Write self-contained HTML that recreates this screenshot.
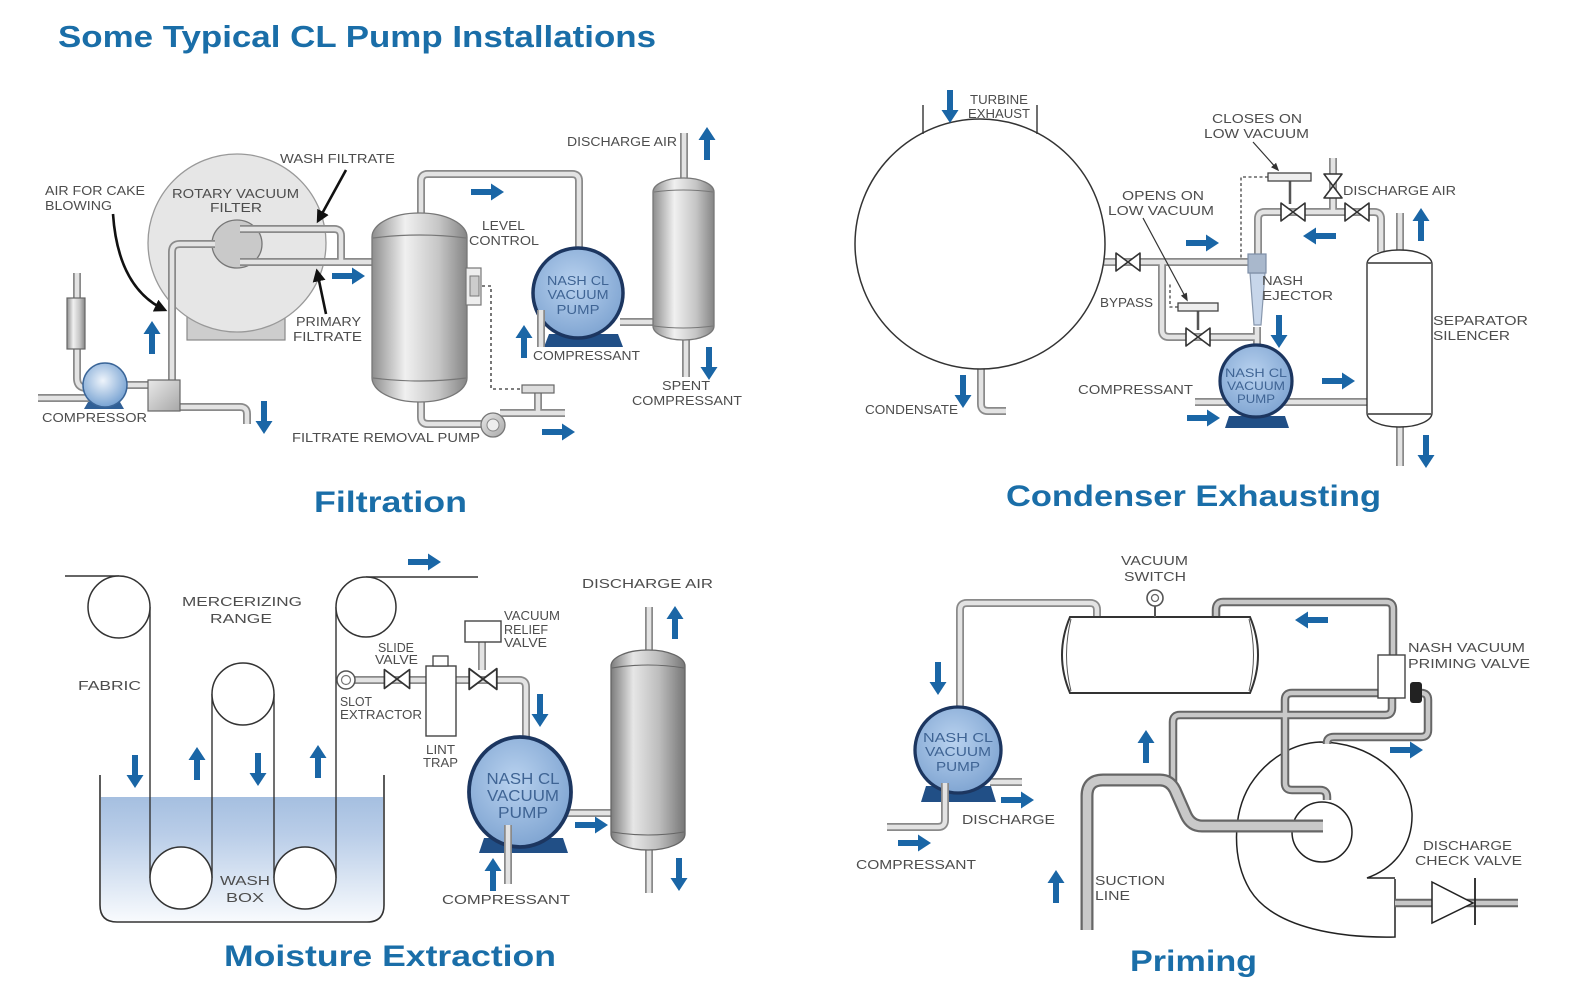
<!DOCTYPE html>
<html><head><meta charset="utf-8"><style>
html,body{margin:0;padding:0;background:#fff}
svg{display:block}
.t{font-family:"Liberation Sans",Arial,sans-serif;fill:#4d4d4d;font-size:13px}
.h{font-family:"Liberation Sans",Arial,sans-serif;fill:#1a6ea8;font-weight:bold}
.pt{font-family:"Liberation Sans",Arial,sans-serif;fill:#3f6494;text-anchor:middle}
.po{fill:none;stroke:#8a8a8a;stroke-width:8;stroke-linejoin:round;stroke-linecap:butt}
.pi{fill:none;stroke:#e3e3e3;stroke-width:4.5;stroke-linejoin:round;stroke-linecap:butt}
.qo{fill:none;stroke:#666;stroke-width:8.5;stroke-linejoin:round}
.qi{fill:none;stroke:#c8c8c8;stroke-width:4.5;stroke-linejoin:round}
.so{fill:none;stroke:#666;stroke-width:13;stroke-linejoin:round}
.si{fill:none;stroke:#c9c9c9;stroke-width:8.5;stroke-linejoin:round}
.ln{fill:none;stroke:#333;stroke-width:1.4}
.ar{fill:#1a66a6}
</style></head><body>
<svg width="1572" height="1000" viewBox="0 0 1572 1000" xmlns="http://www.w3.org/2000/svg">
<defs>
 <linearGradient id="gv" x1="0" y1="0" x2="1" y2="0">
  <stop offset="0" stop-color="#8e8e8e"/><stop offset="0.35" stop-color="#f0f0f0"/><stop offset="0.7" stop-color="#c6c6c6"/><stop offset="1" stop-color="#858585"/>
 </linearGradient>
 <linearGradient id="gd" x1="0" y1="0" x2="1" y2="0">
  <stop offset="0" stop-color="#7c7c7c"/><stop offset="0.3" stop-color="#e6e6e6"/><stop offset="0.65" stop-color="#bdbdbd"/><stop offset="1" stop-color="#777"/>
 </linearGradient>
 <radialGradient id="gb" cx="0.45" cy="0.4" r="0.65">
  <stop offset="0" stop-color="#b9d2ef"/><stop offset="1" stop-color="#7ca2d0"/>
 </radialGradient>
 <radialGradient id="gc" cx="0.45" cy="0.4" r="0.65">
  <stop offset="0" stop-color="#eef4fb"/><stop offset="1" stop-color="#6e9ccf"/>
 </radialGradient>
 <linearGradient id="gw" x1="0" y1="0" x2="0" y2="1">
  <stop offset="0" stop-color="#a5bfe0"/><stop offset="0.3" stop-color="#b9cde8"/><stop offset="0.7" stop-color="#dde7f4"/><stop offset="1" stop-color="#f8fafd"/>
 </linearGradient>
 <linearGradient id="gbox" x1="0" y1="0" x2="1" y2="1">
  <stop offset="0" stop-color="#e8e8e8"/><stop offset="1" stop-color="#a8a8a8"/>
 </linearGradient>
 <marker id="mk" viewBox="0 0 10 10" refX="8" refY="5" markerWidth="5" markerHeight="5" orient="auto"><path d="M0,0L10,5L0,10z" fill="#111"/></marker>
 <marker id="mt" viewBox="0 0 10 10" refX="8" refY="5" markerWidth="7" markerHeight="7" orient="auto"><path d="M0,1L10,5L0,9z" fill="#333"/></marker>
 <path id="arr" d="M0,-3H20V-8.5L33,0L20,8.5V3H0Z"/>
 <path id="vv" d="M-12,-9L12,9V-9L-12,9Z" fill="#fff" stroke="#333" stroke-width="1.6" stroke-linejoin="round"/>
 <!-- filtration pipes -->
 <g id="fp">
  <path d="M38,398H90"/>
  <path d="M77,273V378Q77,388 87,388"/>
  <path d="M125,385H150"/>
  <path d="M180,407H240Q247,407 247,414V424"/>
  <path d="M172,380V252Q172,244 180,244H215"/>
  <path d="M240,229H334Q341,229 341,236V262"/>
  <path d="M240,262H375"/>
  <path d="M421,215V181Q421,174 428,174H572Q579,174 579,181V250"/>
  <path d="M421,400V417Q421,424 428,424H482"/>
  <path d="M500,413H565"/>
  <path d="M538,393V413"/>
  <path d="M620,322H686"/>
  <path d="M684,133V180"/>
  <path d="M686,338V377"/>
 </g>
 <g id="fp2"><path d="M541,347V310"/></g>
 <!-- condenser pipes -->
 <g id="cp">
  <path d="M1104,262H1250"/>
  <path d="M1162,262V330Q1162,337 1169,337H1258"/>
  <path d="M1258,256V219Q1258,212 1265,212H1374Q1381,212 1381,219V252"/>
  <path d="M1333,212V158"/>
  <path d="M981,369V404Q981,411 988,411H1006"/>
  <path d="M1195,402H1400"/>
  <path d="M1400,213V252"/>
  <path d="M1400,425V466"/>
  <path d="M1257,327V346"/>
 </g>
 <!-- moisture pipes -->
 <g id="mp">
  <path d="M354,680H519Q526,680 526,687V740"/>
  <path d="M482,641V670"/>
  <path d="M566,813H646"/>
  <path d="M649,607V652"/>
  <path d="M649,848V893"/>
 </g>
 <g id="mp2"><path d="M508,825V884"/></g>
 <!-- priming light pipes -->
 <g id="pp">
  <path d="M1097,618V610Q1097,603 1090,603H967Q960,603 960,610V708"/>
  <path d="M990,782H1022"/>
 </g>
 <g id="pp2"><path d="M945,783V820Q945,827 938,827H887"/></g>
 <g id="pd">
  <path d="M1216,618V610Q1216,602 1223,602H1386Q1393,602 1393,609V656"/>
  <path d="M1380,693H1292Q1285,693 1285,700V783Q1285,790 1292,790H1320Q1327,790 1327,797V800"/>
  <path d="M1392,698V708Q1392,715 1385,715H1180Q1173,715 1173,722V782"/>
  <path d="M1421,693H1421Q1428,693 1428,700V730Q1428,737 1421,737H1334Q1327,737 1327,743V744"/>
  <path d="M1395,903H1518"/>
 </g>
 <g id="ps"><path d="M1087,930V796Q1087,780 1103,780H1160Q1170,780 1175,790L1186,815Q1191,826 1202,826H1323"/></g>
</defs>

<!-- TITLE -->
<text class="h" x="58" y="47" font-size="31" textLength="598" lengthAdjust="spacingAndGlyphs">Some Typical CL Pump Installations</text>

<!-- ================= FILTRATION ================= -->
<rect x="187" y="312" width="98" height="28" fill="#cdcdcd" stroke="#888" stroke-width="1.2"/>
<circle cx="237" cy="243" r="89" fill="#e6e6e6" stroke="#999" stroke-width="1.3"/>
<ellipse cx="237" cy="244" rx="25" ry="24" fill="#c9c9c9" stroke="#777" stroke-width="1.3"/>
<use href="#fp" class="po"/><use href="#fp" class="pi"/>
<!-- gauge -->
<rect x="67" y="298" width="18" height="51" fill="url(#gv)" stroke="#666" stroke-width="1.2"/>
<!-- compressor -->
<path d="M88,402H120L124,409H84Z" fill="#2f5f96"/>
<ellipse cx="105" cy="385" rx="22" ry="22" fill="url(#gc)" stroke="#3a6598" stroke-width="1.5"/>
<!-- box -->
<rect x="148" y="380" width="32" height="31" fill="url(#gbox)" stroke="#666" stroke-width="1.2"/>
<!-- tank -->
<rect x="372" y="213" width="95" height="189" rx="47" ry="24" fill="url(#gv)" stroke="#777" stroke-width="1.3"/>
<path d="M373,238Q420,232 466,238M373,378Q420,384 466,378" fill="none" stroke="#777" stroke-width="1.2"/>
<!-- level control -->
<rect x="466" y="268" width="15" height="37" fill="#eee" stroke="#777" stroke-width="1.2"/>
<rect x="470" y="276" width="9" height="20" fill="#ccc" stroke="#777" stroke-width="1"/>
<path d="M482,286H491V389H523" fill="none" stroke="#555" stroke-width="1.6" stroke-dasharray="3,3"/>
<rect x="522" y="385" width="32" height="8" fill="#ddd" stroke="#666" stroke-width="1.2"/>
<!-- filtrate pump -->
<circle cx="493" cy="425" r="12" fill="url(#gbox)" stroke="#777" stroke-width="1.3"/>
<circle cx="493" cy="425" r="6" fill="#eee" stroke="#888" stroke-width="1"/>
<!-- nash pump -->
<path d="M549,334H618L623,347H544Z" fill="#214f86"/>
<circle cx="578" cy="293" r="45" fill="url(#gb)" stroke="#1c3660" stroke-width="3.5"/>
<use href="#fp2" class="po"/><use href="#fp2" class="pi"/>
<text class="pt" x="578" y="285" font-size="13" textLength="62" lengthAdjust="spacingAndGlyphs">NASH CL</text>
<text class="pt" x="578" y="299" font-size="13" textLength="61" lengthAdjust="spacingAndGlyphs">VACUUM</text>
<text class="pt" x="578" y="314" font-size="13" textLength="43" lengthAdjust="spacingAndGlyphs">PUMP</text>
<!-- separator -->
<rect x="653" y="178" width="61" height="162" rx="30" ry="14" fill="url(#gv)" stroke="#777" stroke-width="1.3"/>
<path d="M654,192Q683,188 713,192M654,326Q683,330 713,326" fill="none" stroke="#777" stroke-width="1.1"/>
<!-- black arrows -->
<path d="M113,214Q118,288 165,310" fill="none" stroke="#111" stroke-width="2.6" marker-end="url(#mk)"/>
<path d="M346,170L318,221" fill="none" stroke="#111" stroke-width="2.6" marker-end="url(#mk)"/>
<path d="M326,314L317,271" fill="none" stroke="#111" stroke-width="2.6" marker-end="url(#mk)"/>
<!-- blue arrows -->
<use href="#arr" class="ar" transform="translate(152,354) rotate(-90)"/>
<use href="#arr" class="ar" transform="translate(264,401) rotate(90)"/>
<use href="#arr" class="ar" transform="translate(332,276)"/>
<use href="#arr" class="ar" transform="translate(471,192)"/>
<use href="#arr" class="ar" transform="translate(524,358) rotate(-90)"/>
<use href="#arr" class="ar" transform="translate(707,160) rotate(-90)"/>
<use href="#arr" class="ar" transform="translate(709,347) rotate(90)"/>
<use href="#arr" class="ar" transform="translate(542,432)"/>
<!-- labels -->
<text class="t" x="280" y="163" textLength="115" lengthAdjust="spacingAndGlyphs">WASH FILTRATE</text>
<text class="t" x="45" y="195" textLength="100" lengthAdjust="spacingAndGlyphs">AIR FOR CAKE</text>
<text class="t" x="45" y="210" textLength="67" lengthAdjust="spacingAndGlyphs">BLOWING</text>
<text class="t" x="172" y="198" textLength="127" lengthAdjust="spacingAndGlyphs">ROTARY VACUUM</text>
<text class="t" x="210" y="212" textLength="52" lengthAdjust="spacingAndGlyphs">FILTER</text>
<text class="t" x="482" y="230" textLength="43" lengthAdjust="spacingAndGlyphs">LEVEL</text>
<text class="t" x="469" y="245" textLength="70" lengthAdjust="spacingAndGlyphs">CONTROL</text>
<text class="t" x="567" y="146" textLength="110" lengthAdjust="spacingAndGlyphs">DISCHARGE AIR</text>
<text class="t" x="296" y="326" textLength="65" lengthAdjust="spacingAndGlyphs">PRIMARY</text>
<text class="t" x="293" y="341" textLength="69" lengthAdjust="spacingAndGlyphs">FILTRATE</text>
<text class="t" x="533" y="360" textLength="107" lengthAdjust="spacingAndGlyphs">COMPRESSANT</text>
<text class="t" x="662" y="390" textLength="48" lengthAdjust="spacingAndGlyphs">SPENT</text>
<text class="t" x="632" y="405" textLength="110" lengthAdjust="spacingAndGlyphs">COMPRESSANT</text>
<text class="t" x="42" y="422" textLength="105" lengthAdjust="spacingAndGlyphs">COMPRESSOR</text>
<text class="t" x="292" y="442" textLength="188" lengthAdjust="spacingAndGlyphs">FILTRATE REMOVAL PUMP</text>
<text class="h" x="314" y="512" font-size="30" textLength="153" lengthAdjust="spacingAndGlyphs">Filtration</text>

<!-- ================= CONDENSER ================= -->
<use href="#cp" class="po"/><use href="#cp" class="pi"/>
<circle cx="980" cy="244" r="125" fill="#fff" stroke="#333" stroke-width="1.5"/>
<path d="M923,105V134M1037,105V134" class="ln"/>
<use href="#vv" transform="translate(1128,262)"/>
<use href="#vv" transform="translate(1198,337)"/>
<use href="#vv" transform="translate(1293,212)"/>
<use href="#vv" transform="translate(1357,212)"/>
<use href="#vv" transform="translate(1333,186) rotate(90)"/>
<!-- actuators -->
<path d="M1198,311V330M1290,181V204" stroke="#555" stroke-width="2.5"/>
<rect x="1178" y="303" width="40" height="8" fill="#eee" stroke="#444" stroke-width="1.3"/>
<rect x="1268" y="173" width="43" height="8" fill="#eee" stroke="#444" stroke-width="1.3"/>
<path d="M1268,177H1241V259" fill="none" stroke="#444" stroke-width="1.3" stroke-dasharray="3,2.5"/>
<path d="M1178,307H1170V284" fill="none" stroke="#444" stroke-width="1.3" stroke-dasharray="3,2.5"/>
<!-- ejector -->
<path d="M1250,273H1265L1261,325H1254Z" fill="#c7d6ea" stroke="#8797ad" stroke-width="1.2"/>
<rect x="1248" y="254" width="18" height="19" fill="#a9b8cc" stroke="#7d8ea6" stroke-width="1.2"/>
<!-- pump -->
<path d="M1229,416H1285L1289,428H1225Z" fill="#214f86"/>
<circle cx="1256" cy="381" r="36" fill="url(#gb)" stroke="#1c3660" stroke-width="3.2"/>
<text class="pt" x="1256" y="377" font-size="12" textLength="62" lengthAdjust="spacingAndGlyphs">NASH CL</text>
<text class="pt" x="1256" y="390" font-size="12" textLength="58" lengthAdjust="spacingAndGlyphs">VACUUM</text>
<text class="pt" x="1256" y="403" font-size="12" textLength="38" lengthAdjust="spacingAndGlyphs">PUMP</text>
<!-- separator silencer -->
<rect x="1367" y="250" width="65" height="177" rx="32" ry="14" fill="#fff" stroke="#333" stroke-width="1.4"/>
<path d="M1368,263H1431M1368,414H1431" class="ln"/>
<!-- thin arrows -->
<path d="M1143,218L1187,300" fill="none" stroke="#333" stroke-width="1.2" marker-end="url(#mt)"/>
<path d="M1253,142L1278,170" fill="none" stroke="#333" stroke-width="1.2" marker-end="url(#mt)"/>
<!-- blue arrows -->
<use href="#arr" class="ar" transform="translate(950,90) rotate(90)"/>
<use href="#arr" class="ar" transform="translate(963,375) rotate(90)"/>
<use href="#arr" class="ar" transform="translate(1186,243)"/>
<use href="#arr" class="ar" transform="translate(1336,236) rotate(180)"/>
<use href="#arr" class="ar" transform="translate(1279,315) rotate(90)"/>
<use href="#arr" class="ar" transform="translate(1421,241) rotate(-90)"/>
<use href="#arr" class="ar" transform="translate(1426,435) rotate(90)"/>
<use href="#arr" class="ar" transform="translate(1322,381)"/>
<use href="#arr" class="ar" transform="translate(1187,418)"/>
<!-- labels -->
<text class="t" x="970" y="104" font-size="12" textLength="58" lengthAdjust="spacingAndGlyphs">TURBINE</text>
<text class="t" x="968" y="118" font-size="12" textLength="62" lengthAdjust="spacingAndGlyphs">EXHAUST</text>
<text class="t" x="1212" y="123" textLength="90" lengthAdjust="spacingAndGlyphs">CLOSES ON</text>
<text class="t" x="1204" y="138" textLength="105" lengthAdjust="spacingAndGlyphs">LOW VACUUM</text>
<text class="t" x="1122" y="200" textLength="82" lengthAdjust="spacingAndGlyphs">OPENS ON</text>
<text class="t" x="1108" y="215" textLength="106" lengthAdjust="spacingAndGlyphs">LOW VACUUM</text>
<text class="t" x="1343" y="195" textLength="113" lengthAdjust="spacingAndGlyphs">DISCHARGE AIR</text>
<text class="t" x="1262" y="285" textLength="41" lengthAdjust="spacingAndGlyphs">NASH</text>
<text class="t" x="1262" y="300" textLength="71" lengthAdjust="spacingAndGlyphs">EJECTOR</text>
<text class="t" x="1100" y="307" font-size="12" textLength="53" lengthAdjust="spacingAndGlyphs">BYPASS</text>
<text class="t" x="1433" y="325" textLength="95" lengthAdjust="spacingAndGlyphs">SEPARATOR</text>
<text class="t" x="1433" y="340" textLength="77" lengthAdjust="spacingAndGlyphs">SILENCER</text>
<text class="t" x="1078" y="394" textLength="115" lengthAdjust="spacingAndGlyphs">COMPRESSANT</text>
<text class="t" x="865" y="414" font-size="12" textLength="93" lengthAdjust="spacingAndGlyphs">CONDENSATE</text>
<text class="h" x="1006" y="506" font-size="30" textLength="375" lengthAdjust="spacingAndGlyphs">Condenser Exhausting</text>

<!-- ================= MOISTURE ================= -->
<path d="M101,797H383V905Q383,921 367,921H117Q101,921 101,905Z" fill="url(#gw)"/>
<path d="M65,576H119M366,577H478M150,607V878M212,694V878M274,694V878M336,607V878" class="ln"/>
<circle cx="119" cy="607" r="31" fill="#fff" stroke="#333" stroke-width="1.5"/>
<circle cx="366" cy="607" r="30" fill="#fff" stroke="#333" stroke-width="1.5"/>
<circle cx="243" cy="694" r="31" fill="#fff" stroke="#333" stroke-width="1.5"/>
<circle cx="181" cy="878" r="31" fill="#fff" stroke="#333" stroke-width="1.5"/>
<circle cx="305" cy="878" r="31" fill="#fff" stroke="#333" stroke-width="1.5"/>
<path d="M100,775V905Q100,922 117,922H367Q384,922 384,905V775" fill="none" stroke="#333" stroke-width="1.6"/>
<use href="#mp" class="po"/><use href="#mp" class="pi"/>
<circle cx="346" cy="680" r="9" fill="#fff" stroke="#555" stroke-width="1.5"/>
<circle cx="346" cy="680" r="4.5" fill="#fff" stroke="#777" stroke-width="1.2"/>
<use href="#vv" transform="translate(397,679) scale(1.05)"/>
<use href="#vv" transform="translate(483,679) scale(1.15)"/>
<rect x="426" y="666" width="30" height="70" fill="#fff" stroke="#444" stroke-width="1.4"/>
<rect x="433" y="656" width="15" height="10" fill="#fff" stroke="#444" stroke-width="1.3"/>
<rect x="465" y="621" width="36" height="21" fill="#fff" stroke="#444" stroke-width="1.4"/>
<!-- pump -->
<path d="M484,838H563L568,853H479Z" fill="#214f86"/>
<ellipse cx="520" cy="792" rx="51" ry="55" fill="url(#gb)" stroke="#1c3660" stroke-width="3.8"/>
<use href="#mp2" class="po"/><use href="#mp2" class="pi"/>
<text class="pt" x="523" y="784" font-size="16" textLength="73" lengthAdjust="spacingAndGlyphs">NASH CL</text>
<text class="pt" x="523" y="801" font-size="16" textLength="72" lengthAdjust="spacingAndGlyphs">VACUUM</text>
<text class="pt" x="523" y="818" font-size="16" textLength="50" lengthAdjust="spacingAndGlyphs">PUMP</text>
<!-- separator -->
<rect x="611" y="650" width="74" height="200" rx="37" ry="16" fill="url(#gd)" stroke="#666" stroke-width="1.3"/>
<path d="M612,668Q648,662 684,668M612,832Q648,838 684,832" fill="none" stroke="#666" stroke-width="1.1"/>
<!-- arrows -->
<use href="#arr" class="ar" transform="translate(135,755) rotate(90)"/>
<use href="#arr" class="ar" transform="translate(197,780) rotate(-90)"/>
<use href="#arr" class="ar" transform="translate(258,753) rotate(90)"/>
<use href="#arr" class="ar" transform="translate(318,778) rotate(-90)"/>
<use href="#arr" class="ar" transform="translate(408,562)"/>
<use href="#arr" class="ar" transform="translate(540,694) rotate(90)"/>
<use href="#arr" class="ar" transform="translate(493,891) rotate(-90)"/>
<use href="#arr" class="ar" transform="translate(575,825)"/>
<use href="#arr" class="ar" transform="translate(675,639) rotate(-90)"/>
<use href="#arr" class="ar" transform="translate(679,858) rotate(90)"/>
<!-- labels -->
<text class="t" x="182" y="606" font-size="15" textLength="120" lengthAdjust="spacingAndGlyphs">MERCERIZING</text>
<text class="t" x="210" y="623" font-size="15" textLength="62" lengthAdjust="spacingAndGlyphs">RANGE</text>
<text class="t" x="78" y="690" font-size="15" textLength="63" lengthAdjust="spacingAndGlyphs">FABRIC</text>
<text class="t" x="378" y="652" font-size="11" textLength="36" lengthAdjust="spacingAndGlyphs">SLIDE</text>
<text class="t" x="375" y="664" font-size="11" textLength="43" lengthAdjust="spacingAndGlyphs">VALVE</text>
<text class="t" x="340" y="706" font-size="12" textLength="32" lengthAdjust="spacingAndGlyphs">SLOT</text>
<text class="t" x="340" y="719" font-size="12" textLength="82" lengthAdjust="spacingAndGlyphs">EXTRACTOR</text>
<text class="t" x="504" y="620" font-size="12" textLength="56" lengthAdjust="spacingAndGlyphs">VACUUM</text>
<text class="t" x="504" y="634" font-size="12" textLength="44" lengthAdjust="spacingAndGlyphs">RELIEF</text>
<text class="t" x="504" y="647" font-size="12" textLength="43" lengthAdjust="spacingAndGlyphs">VALVE</text>
<text class="t" x="426" y="754" font-size="12" textLength="29" lengthAdjust="spacingAndGlyphs">LINT</text>
<text class="t" x="423" y="767" font-size="12" textLength="35" lengthAdjust="spacingAndGlyphs">TRAP</text>
<text class="t" x="582" y="588" font-size="15" textLength="131" lengthAdjust="spacingAndGlyphs">DISCHARGE AIR</text>
<text class="t" x="220" y="885" font-size="15" textLength="50" lengthAdjust="spacingAndGlyphs">WASH</text>
<text class="t" x="226" y="902" font-size="15" textLength="38" lengthAdjust="spacingAndGlyphs">BOX</text>
<text class="t" x="442" y="904" font-size="15" textLength="128" lengthAdjust="spacingAndGlyphs">COMPRESSANT</text>
<text class="h" x="224" y="966" font-size="30" textLength="332" lengthAdjust="spacingAndGlyphs">Moisture Extraction</text>

<!-- ================= PRIMING ================= -->
<!-- volute -->
<path d="M1395,879V937C1345,938 1275,930 1250,890C1232,860 1232,815 1250,785C1268,757 1295,743 1320,742C1370,742 1410,775 1412,813C1413,845 1395,868 1367,878H1395" fill="#fff" stroke="#222" stroke-width="1.5"/>
<circle cx="1322" cy="832" r="30" fill="#fff" stroke="#222" stroke-width="1.5"/>
<use href="#pp" class="po"/><use href="#pp" class="pi"/>
<use href="#pd" class="qo"/><use href="#pd" class="qi"/>
<use href="#ps" class="so"/><use href="#ps" class="si"/>
<!-- tank -->
<path d="M1070,617H1250Q1266,655 1250,693H1070Q1054,655 1070,617Z" fill="#fff" stroke="#333" stroke-width="2"/>
<path d="M1071,619Q1062,655 1071,691M1249,619Q1258,655 1249,691" fill="none" stroke="#555" stroke-width="1"/>
<path d="M1155,605V617" stroke="#555" stroke-width="2"/>
<circle cx="1155" cy="598" r="8" fill="#fff" stroke="#555" stroke-width="1.6"/>
<circle cx="1155" cy="598" r="3.5" fill="#fff" stroke="#666" stroke-width="1.3"/>
<!-- priming valve -->
<rect x="1378" y="655" width="27" height="43" fill="#fff" stroke="#444" stroke-width="1.4"/>
<rect x="1410" y="682" width="12" height="21" rx="3" fill="#222"/>
<!-- pump -->
<path d="M926,786H991L996,802H921Z" fill="#214f86"/>
<circle cx="958" cy="750" r="43" fill="url(#gb)" stroke="#1c3660" stroke-width="3.3"/>
<use href="#pp2" class="po"/><use href="#pp2" class="pi"/>
<text class="pt" x="958" y="742" font-size="13" textLength="70" lengthAdjust="spacingAndGlyphs">NASH CL</text>
<text class="pt" x="958" y="756" font-size="13" textLength="66" lengthAdjust="spacingAndGlyphs">VACUUM</text>
<text class="pt" x="958" y="771" font-size="13" textLength="44" lengthAdjust="spacingAndGlyphs">PUMP</text>
<!-- check valve -->
<path d="M1432,882L1473,903L1432,923Z" fill="#fff" stroke="#222" stroke-width="1.5"/>
<path d="M1475,878V925" stroke="#222" stroke-width="1.8"/>
<!-- arrows -->
<use href="#arr" class="ar" transform="translate(938,662) rotate(90)"/>
<use href="#arr" class="ar" transform="translate(1001,800)"/>
<use href="#arr" class="ar" transform="translate(898,843)"/>
<use href="#arr" class="ar" transform="translate(1328,620) rotate(180)"/>
<use href="#arr" class="ar" transform="translate(1146,763) rotate(-90)"/>
<use href="#arr" class="ar" transform="translate(1390,750)"/>
<use href="#arr" class="ar" transform="translate(1056,903) rotate(-90)"/>
<!-- labels -->
<text class="t" x="1121" y="565" font-size="14" textLength="67" lengthAdjust="spacingAndGlyphs">VACUUM</text>
<text class="t" x="1124" y="581" font-size="14" textLength="62" lengthAdjust="spacingAndGlyphs">SWITCH</text>
<text class="t" x="1408" y="652" font-size="14" textLength="117" lengthAdjust="spacingAndGlyphs">NASH VACUUM</text>
<text class="t" x="1408" y="668" font-size="14" textLength="122" lengthAdjust="spacingAndGlyphs">PRIMING VALVE</text>
<text class="t" x="962" y="824" font-size="14" textLength="93" lengthAdjust="spacingAndGlyphs">DISCHARGE</text>
<text class="t" x="856" y="869" font-size="14" textLength="120" lengthAdjust="spacingAndGlyphs">COMPRESSANT</text>
<text class="t" x="1095" y="885" font-size="14" textLength="70" lengthAdjust="spacingAndGlyphs">SUCTION</text>
<text class="t" x="1095" y="900" font-size="14" textLength="35" lengthAdjust="spacingAndGlyphs">LINE</text>
<text class="t" x="1423" y="850" font-size="14" textLength="89" lengthAdjust="spacingAndGlyphs">DISCHARGE</text>
<text class="t" x="1415" y="865" font-size="14" textLength="107" lengthAdjust="spacingAndGlyphs">CHECK VALVE</text>
<text class="h" x="1130" y="971" font-size="30" textLength="127" lengthAdjust="spacingAndGlyphs">Priming</text>
</svg>
</body></html>
